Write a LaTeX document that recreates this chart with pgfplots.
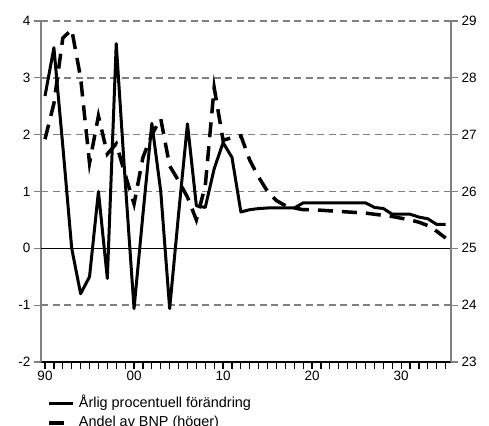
\documentclass[border=0pt]{standalone}
\usepackage{pgfplots}
\usepackage{pgfplotstable}
\pgfplotsset{compat=1.18}
\usepackage{fontspec}
\setmainfont{Liberation Sans}
\definecolor{gridgray}{RGB}{128,128,128}

% Annual percentage change (left axis)
\pgfplotstableread{
year val
1990 2.68
1991 3.53
1992 1.80
1993 0.00
1994 -0.80
1995 -0.50
1996 1.00
1997 -0.53
1998 3.60
1999 1.20
2000 -1.06
2001 0.60
2002 2.20
2003 1.00
2004 -1.06
2005 0.60
2006 2.19
2007 0.75
2008 0.72
2009 1.40
2010 1.86
2011 1.60
2012 0.64
2013 0.68
2014 0.70
2015 0.71
2016 0.71
2017 0.71
2018 0.71
2019 0.80
2020 0.80
2021 0.80
2022 0.80
2023 0.80
2024 0.80
2025 0.80
2026 0.80
2027 0.72
2028 0.70
2029 0.60
2030 0.60
2031 0.60
2032 0.55
2033 0.52
2034 0.42
2035 0.42
}\annual

% Share of GDP (right axis)
\pgfplotstableread{
year val
1990 26.92
1991 27.55
1992 28.70
1993 28.85
1994 28.00
1995 26.50
1996 27.33
1997 26.66
1998 26.84
1999 26.30
2000 25.78
2001 26.60
2002 27.00
2003 27.28
2004 26.45
2005 26.19
2006 25.90
2007 25.50
2008 26.10
2009 27.83
2010 26.90
2011 26.95
2012 26.98
2013 26.55
2014 26.25
2015 26.00
2016 25.84
2017 25.75
2018 25.71
2019 25.68
2020 25.68
2021 25.67
2022 25.66
2023 25.65
2024 25.64
2025 25.63
2026 25.62
2027 25.60
2028 25.58
2029 25.56
2030 25.53
2031 25.50
2032 25.46
2033 25.40
2034 25.30
2035 25.18
}\share

\pgfplotsset{
  base/.style={
    scale only axis, width=410pt, height=341pt,
    at={(41pt,63pt)}, anchor=south west,
    xmin=1989.55, xmax=2035.6,
    ytick={-2,...,4},
    tick align=outside,
    major tick length=7pt,
    minor tick length=7pt,
    tick style={gridgray, line width=1.2pt},
    ticklabel style={font=\fontsize{13.5}{15}\selectfont},
    /pgf/number format/assume math mode=true,
    clip=false,
  },
}

\begin{document}
\begin{tikzpicture}[x=1pt,y=1pt]
\useasboundingbox (0,0) rectangle (489,425);
\begin{axis}[
  base,
  ymin=-2, ymax=4,
  axis x line*=bottom,
  axis y line*=left,
  x axis line style={black, line width=1.2pt, -},
  y axis line style={gridgray, line width=1.5pt, -},
  xtick={1990,2000,2010,2020,2030},
  xticklabels={90,00,10,20,30},
  minor xtick={1990,...,2035},
  x tick style={black, line width=1.2pt},
  ymajorgrids,
  major grid style={gridgray, line width=1.5pt, dash pattern=on 7pt off 4.5pt},
  xticklabel style={yshift=1pt},
]
\addplot[black, line width=1.3pt, forget plot] coordinates {(1989.55,0) (2035.6,0)};
\addplot[black, line width=3pt, line join=round] table[x=year, y=val] {\annual};
\end{axis}
\begin{axis}[
  base,
  ymin=23, ymax=29,
  ytick={23,...,29},
  axis y line*=right,
  axis x line=none,
  y axis line style={gridgray, line width=1.5pt, -},
  legend cell align=left,
  legend style={
    at={(axis description cs:0.0146,-0.102)}, anchor=north west,
    draw=none, fill=none, inner sep=0pt, row sep=6pt,
    font=\fontsize{14.4}{16}\selectfont,
    nodes={inner xsep=0pt, inner ysep=0pt, text height=10.5pt, text depth=3pt},
  },
  legend image code/.code={%
    \path[draw=none, fill=none] (0pt,-4pt) rectangle (30pt,4pt);
    \draw[#1] (0pt,0pt) -- (24pt,0pt);},
]
\addlegendimage{black, line width=3pt}
\addlegendentry{Årlig procentuell förändring}
\addplot[black, line width=3.5pt, dash pattern=on 15pt off 9pt] table[x=year, y=val] {\share};
\addlegendentry{Andel av BNP (höger)}
\end{axis}
\end{tikzpicture}
\end{document}
